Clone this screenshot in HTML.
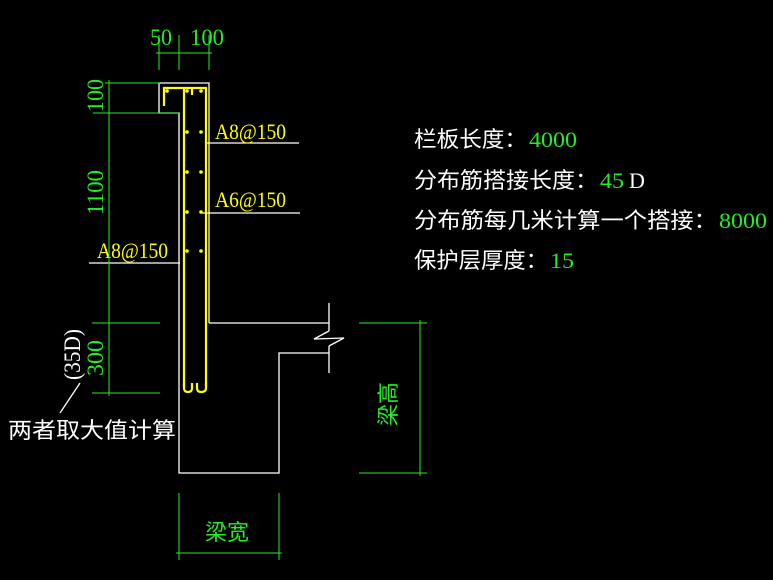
<!DOCTYPE html>
<html><head><meta charset="utf-8"><style>
html,body{margin:0;padding:0;background:#000;width:773px;height:580px;overflow:hidden}
svg{display:block}
.cn{font-family:"Liberation Sans","Noto Sans CJK SC",sans-serif;fill:#fff}
.num{font-family:"Liberation Serif",serif}
</style></head><body>
<svg width="773" height="580" viewBox="0 0 773 580" xmlns="http://www.w3.org/2000/svg">
<rect width="773" height="580" fill="#000"/>
<g stroke="#fff" stroke-width="1.3" fill="none">
<polyline points="209,323 209,83 159,83 159,113 179,113 179,473 279,473 279,353 329,353"/>
<line x1="209" y1="323" x2="329" y2="323"/>
<line x1="329" y1="303" x2="329" y2="331"/>
<polyline points="329,331 314,339 344,338 329,346"/>
<line x1="329" y1="346" x2="329" y2="373"/>
<line x1="205" y1="143" x2="299" y2="143"/>
<line x1="201" y1="213" x2="300" y2="213"/>
<line x1="89" y1="263" x2="180" y2="263"/>
<line x1="80" y1="383" x2="60" y2="413"/>
</g>
<g stroke="#ff0" stroke-width="2.2" fill="none">
<polyline points="164,106 164,88 206,88 206,387"/>
<line x1="184" y1="88" x2="184" y2="387"/>
<path d="M184,383 L184,388 Q184,392 188,392 Q192,392 192,388 L192,383"/>
<path d="M197,383 L197,388 Q197,392 201,392 Q206,392 206,388 L206,383"/>
<line x1="192" y1="89" x2="192" y2="95"/>
</g>
<g fill="#ff0">
<circle cx="167" cy="91" r="1.8"/><circle cx="187" cy="91" r="1.8"/><circle cx="201" cy="91" r="1.8"/>
<circle cx="187" cy="132" r="1.8"/><circle cx="201" cy="132" r="1.8"/>
<circle cx="187" cy="172" r="1.8"/><circle cx="201" cy="172" r="1.8"/>
<circle cx="187" cy="212" r="1.8"/><circle cx="201" cy="212" r="1.8"/>
<circle cx="187" cy="251" r="1.8"/><circle cx="201" cy="251" r="1.8"/>
</g>
<g class="num" fill="#ff0" font-size="22">
<text x="215" y="139" textLength="71" lengthAdjust="spacingAndGlyphs">A8@150</text>
<text x="215" y="207" textLength="71" lengthAdjust="spacingAndGlyphs">A6@150</text>
<text x="97" y="258" textLength="71" lengthAdjust="spacingAndGlyphs">A8@150</text>
</g>
<g stroke="#2e2" stroke-width="1" fill="none">
<line x1="159" y1="35" x2="159" y2="70"/><line x1="179" y1="35" x2="179" y2="70"/><line x1="209" y1="35" x2="209" y2="70"/>
<line x1="156" y1="53" x2="212" y2="53"/>
<line x1="105" y1="83" x2="160" y2="83"/><line x1="93" y1="113" x2="179" y2="113"/>
<line x1="92" y1="323" x2="160" y2="323"/><line x1="92" y1="393" x2="160" y2="393"/>
<line x1="109" y1="80" x2="109" y2="396"/>
<line x1="179" y1="493" x2="179" y2="560"/><line x1="279" y1="493" x2="279" y2="560"/>
<line x1="176" y1="553" x2="282" y2="553"/>
<line x1="359" y1="323" x2="427" y2="323"/><line x1="359" y1="473" x2="427" y2="473"/>
<line x1="420" y1="320" x2="420" y2="476"/>
</g>
<g class="num" fill="#2e2" font-size="23">
<text x="150" y="45" textLength="22" lengthAdjust="spacingAndGlyphs">50</text>
<text x="190" y="45" textLength="34" lengthAdjust="spacingAndGlyphs">100</text>
<text transform="translate(103,112) rotate(-90)" textLength="33" lengthAdjust="spacingAndGlyphs">100</text>
<text transform="translate(103,215) rotate(-90)" textLength="45" lengthAdjust="spacingAndGlyphs">1100</text>
<text transform="translate(103,376) rotate(-90)" textLength="36" lengthAdjust="spacingAndGlyphs">300</text>
</g>
<text class="num" transform="translate(80,380) rotate(-90)" font-size="23" fill="#fff" textLength="51" lengthAdjust="spacingAndGlyphs">(35D)</text>
<text class="cn" x="8" y="438" font-size="22" textLength="168" lengthAdjust="spacingAndGlyphs">两者取大值计算</text>
<text class="cn" x="205" y="540" font-size="22" style="fill:#2e2">梁宽</text>
<text class="cn" transform="translate(396,404) rotate(-90)" text-anchor="middle" font-size="22" style="fill:#2e2">梁高</text>
<g font-size="22">
<text class="cn" x="414" y="147" textLength="113" lengthAdjust="spacingAndGlyphs">栏板长度：</text>
<text class="num" x="529" y="147" fill="#2e2" textLength="48" lengthAdjust="spacingAndGlyphs">4000</text>
<text class="cn" x="414" y="188" textLength="184" lengthAdjust="spacingAndGlyphs">分布筋搭接长度：</text>
<text class="num" x="600" y="188" fill="#2e2" textLength="24" lengthAdjust="spacingAndGlyphs">45</text>
<text class="num" x="629" y="188" fill="#fff">D</text>
<text class="cn" x="414" y="228" textLength="303" lengthAdjust="spacingAndGlyphs">分布筋每几米计算一个搭接：</text>
<text class="num" x="719" y="228" fill="#2e2" textLength="48" lengthAdjust="spacingAndGlyphs">8000</text>
<text class="cn" x="414" y="268" textLength="134" lengthAdjust="spacingAndGlyphs">保护层厚度：</text>
<text class="num" x="550" y="268" fill="#2e2" textLength="24" lengthAdjust="spacingAndGlyphs">15</text>
</g>
</svg>
</body></html>
